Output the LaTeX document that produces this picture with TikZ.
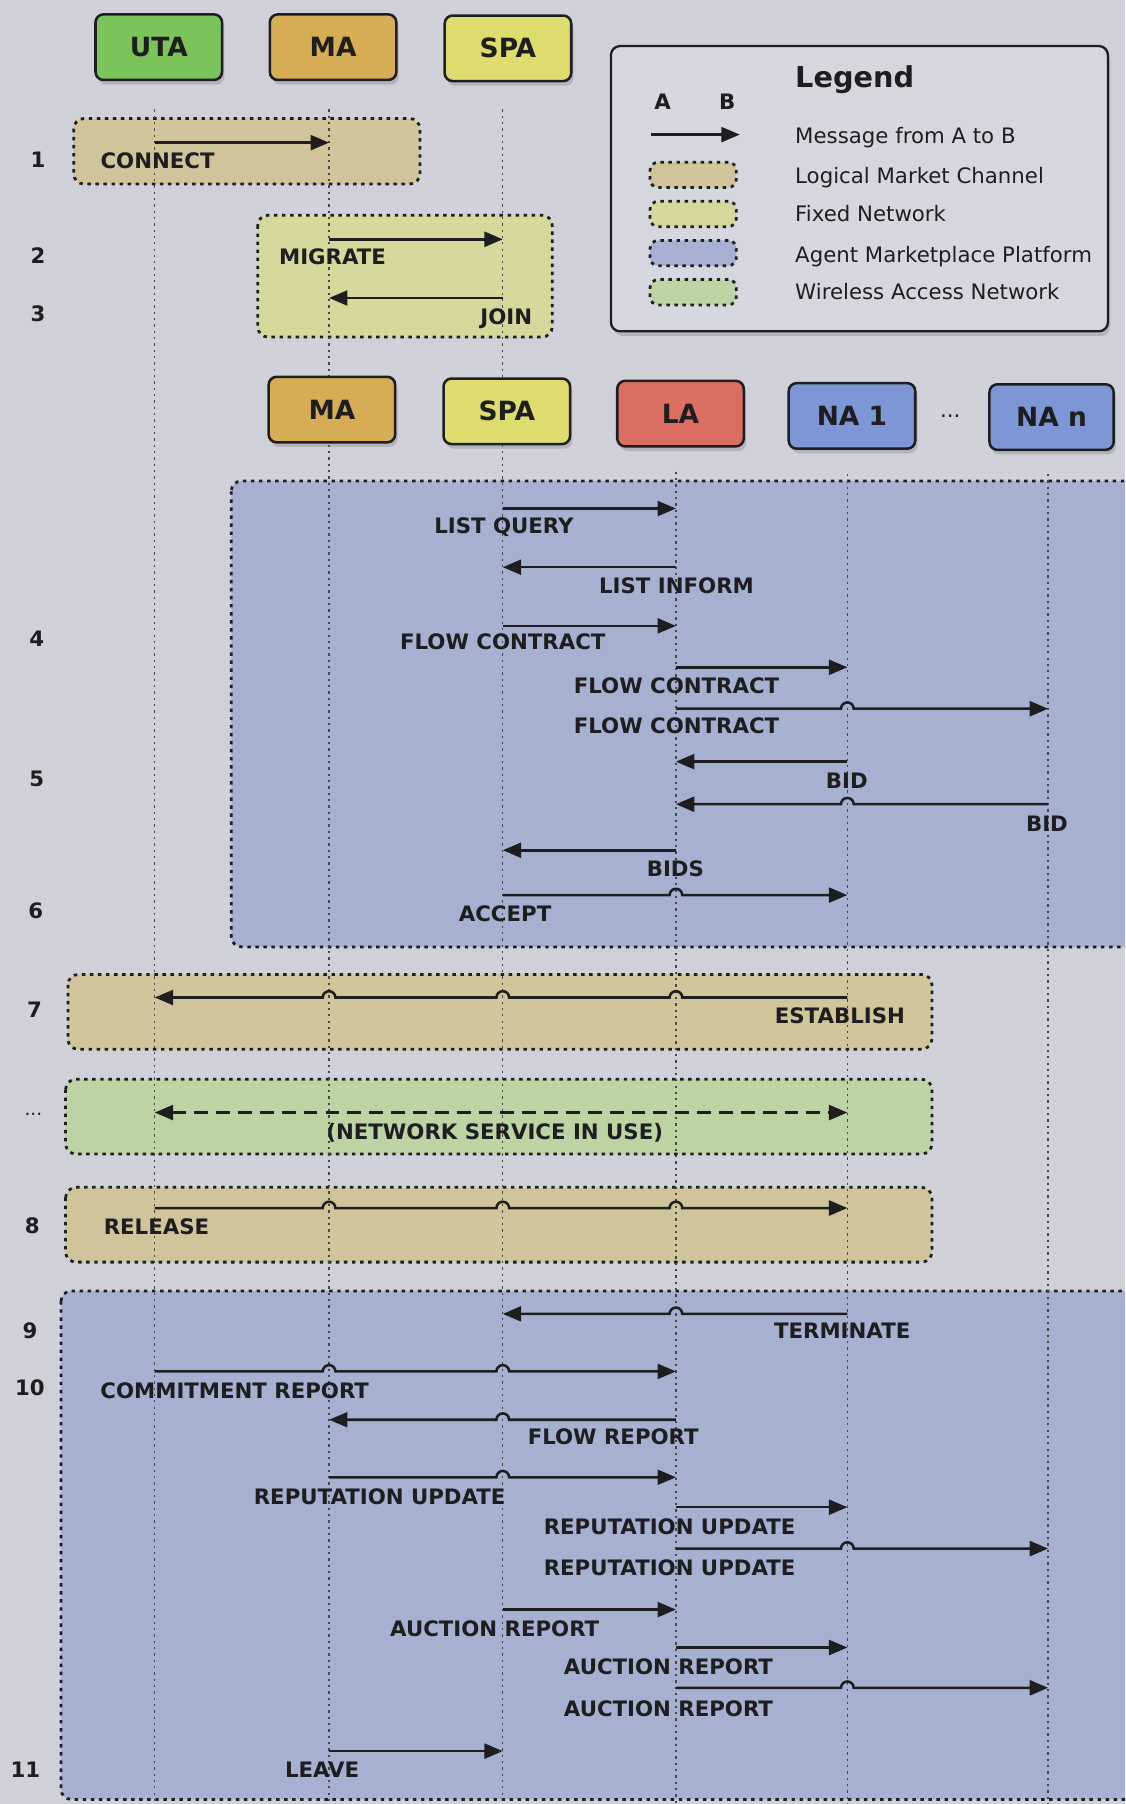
\documentclass[tikz,border=0pt]{standalone}
\usepackage{fontspec}
\setmainfont{DejaVu Sans}
\usetikzlibrary{calc,arrows.meta,shadows}
\definecolor{bgc}{RGB}{207,208,216}
\definecolor{utac}{RGB}{122,196,90}
\definecolor{mac}{RGB}{214,172,84}
\definecolor{spac}{RGB}{222,220,108}
\definecolor{lac}{RGB}{220,110,98}
\definecolor{nac}{RGB}{124,150,214}
\definecolor{lmc}{RGB}{208,196,154}
\definecolor{fixc}{RGB}{214,215,154}
\definecolor{ampc}{RGB}{166,176,208}
\definecolor{wanc}{RGB}{188,212,164}
\definecolor{legc}{RGB}{214,215,222}
\definecolor{ink}{RGB}{30,30,32}
\begin{document}
\begin{tikzpicture}[x=1pt,y=-1pt,
  agent/.style={draw=ink, line width=2.2pt, rounded corners=7pt, minimum width=110pt, minimum height=57pt,
    font=\fontsize{23}{23}\selectfont\bfseries, text=ink,
    drop shadow={shadow xshift=2pt, shadow yshift=-4pt, opacity=0.35}},
  lifeline/.style={draw=black!72, line width=1.1pt, dash pattern=on 2pt off 3.5pt},
  panel/.style={draw=ink, line width=2.4pt, dash pattern=on 3pt off 4pt, rounded corners=9pt},
  swatch/.style={panel, rounded corners=7pt, minimum width=75pt, minimum height=22pt, inner sep=0pt},
  msg/.style={draw=ink, line width=2.2pt, -{Triangle[length=16pt,width=13pt]}},
  dmsg/.style={draw=ink, line width=2.2pt, dash pattern=on 12pt off 7pt, {Triangle[length=16pt,width=13pt]}-{Triangle[length=16pt,width=13pt]}},
  lbl/.style={font=\fontsize{18.5}{18.5}\selectfont\bfseries, text=ink, inner sep=0pt, text height=13.5pt, text depth=0pt},
  legtext/.style={font=\fontsize{18.5}{18.5}\selectfont, text=ink, inner sep=0pt, anchor=west, text height=13.5pt, text depth=0pt}]
\useasboundingbox (0,0) rectangle (978,1568);
\clip (0,0) rectangle (978,1568);
\fill[bgc] (0,0) rectangle (978,1568);

% panels
\draw[panel,fill=lmc] (64,103) rectangle (365,160);
\draw[panel,fill=fixc] (224,187) rectangle (480,293);
\draw[panel,fill=ampc] (201,418) rectangle (1010,823);
\draw[panel,fill=lmc] (59,847) rectangle (810,912);
\draw[panel,fill=wanc] (57,938) rectangle (810,1003);
\draw[panel,fill=lmc] (57,1032) rectangle (810,1097);
\draw[panel,fill=ampc] (53,1122) rectangle (1010,1564);

% lifelines
\coordinate (lu) at (134.5,95);
\coordinate (lm) at (286,95);
\coordinate (ls) at (437,95);
\coordinate (ll) at (587.5,410);
\coordinate (ln1) at (736.5,412);
\coordinate (lnn) at (911,412);
\foreach \c in {lu,lm,ls,ll,ln1,lnn}{\draw[lifeline] (\c) -- (\c |- 0,1568);}

% agents
\node[agent,fill=utac] (uta) at (138,41) {UTA};
\node[agent,fill=mac] (ma1) at (289.5,41) {MA};
\node[agent,fill=spac] (spa1) at (441.5,42) {SPA};
\node[agent,fill=mac] (ma2) at (288.5,356) {MA};
\node[agent,fill=spac] (spa2) at (440.5,357.5) {SPA};
\node[agent,fill=lac] (la) at (591.5,359.5) {LA};
\node[agent,fill=nac] (na1) at (740.5,361.5) {NA 1};
\node[font=\fontsize{18.5}{18.5}\selectfont, text=ink] (dots) at (826,362) {...};
\node[agent,fill=nac,minimum width=108pt] (nan) at (914,362.5) {NA n};

% legend
\node[draw=ink, line width=2pt, rounded corners=8pt, fill=legc, minimum width=432pt, minimum height=248pt,
  drop shadow={shadow xshift=2pt, shadow yshift=-4pt, opacity=0.35}] (legend) at (747,164) {};
\node[font=\fontsize{25}{25}\selectfont\bfseries, text=ink, inner sep=0pt, anchor=west, text height=18pt, text depth=0pt] (legtitle) at (691,67) {Legend};
\node[lbl] (legAl) at (576,88) {A};
\node[lbl] (legBl) at (632,88) {B};
\coordinate (legA) at (566,117);
\coordinate (legB) at (643,117);
\draw[msg] (legA) -- (legB);
\node[swatch,fill=lmc] (sw1) at (602.5,152) {};
\node[swatch,fill=fixc] (sw2) at (602.5,186) {};
\node[swatch,fill=ampc] (sw3) at (602.5,220) {};
\node[swatch,fill=wanc] (sw4) at (602.5,254) {};
\node[legtext] (lt0) at (691,118) {Message from A to B};
\node[legtext] (lt1) at (691,153) {Logical Market Channel};
\node[legtext] (lt2) at (691,186) {Fixed Network};
\node[legtext] (lt3) at (691,221) {Agent Marketplace Platform};
\node[legtext] (lt4) at (691,254) {Wireless Access Network};

% step numbers
\node[lbl] (n1) at (33,139) {1};
\node[lbl] (n2) at (33,222) {2};
\node[lbl] (n3) at (33,273) {3};
\node[lbl] (n4) at (32,555) {4};
\node[lbl] (n5) at (32,677) {5};
\node[lbl] (n6) at (31,792) {6};
\node[lbl] (n7) at (30,878) {7};
\node[font=\fontsize{16}{16}\selectfont, text=ink, inner sep=0pt] (ndots) at (29,969) {...};
\node[lbl] (n8) at (28,1065) {8};
\node[lbl] (n9) at (26,1157) {9};
\node[lbl] (n10) at (26,1206) {10};
\node[lbl] (n11) at (22,1538) {11};

% messages
\draw[msg] (lu |- 0,124) -- (lm |- 0,124);
\node[lbl] (m1) at (137,140) {CONNECT};
\draw[msg] (lm |- 0,208) -- (ls |- 0,208);
\node[lbl] (m2) at (289,223) {MIGRATE};
\draw[msg] (ls |- 0,259) -- (lm |- 0,259);
\node[lbl] (m3) at (440,275) {JOIN};

\draw[msg] (ls |- 0,442) -- (ll |- 0,442);
\node[lbl] (m4) at (438,457) {LIST QUERY};
\draw[msg] (ll |- 0,493) -- (ls |- 0,493);
\node[lbl] (m5) at (588,509) {LIST INFORM};
\draw[msg] (ls |- 0,544) -- (ll |- 0,544);
\node[lbl] (m6) at (437,558) {FLOW CONTRACT};
\draw[msg] (ll |- 0,580) -- (ln1 |- 0,580);
\node[lbl] (m7) at (588,596) {FLOW CONTRACT};
\draw[msg] (ll |- 0,616) -- ($(ln1 |- 0,616)+(-5.5,0)$) arc[start angle=180,end angle=0,radius=5.5pt] -- (lnn |- 0,616);
\node[lbl] (m8) at (588,631) {FLOW CONTRACT};
\draw[msg] (ln1 |- 0,662) -- (ll |- 0,662);
\node[lbl] (m9) at (736,679) {BID};
\draw[msg] (lnn |- 0,699) -- ($(ln1 |- 0,699)+(5.5,0)$) arc[start angle=0,end angle=180,radius=5.5pt] -- (ll |- 0,699);
\node[lbl] (m10) at (910,716) {BID};
\draw[msg] (ll |- 0,739) -- (ls |- 0,739);
\node[lbl] (m11) at (587,755) {BIDS};
\draw[msg] (ls |- 0,778) -- ($(ll |- 0,778)+(-5.5,0)$) arc[start angle=180,end angle=0,radius=5.5pt] -- (ln1 |- 0,778);
\node[lbl] (m12) at (439,794) {ACCEPT};

\draw[msg] (ln1 |- 0,867) -- ($(ll |- 0,867)+(5.5,0)$) arc[start angle=0,end angle=180,radius=5.5pt]
  -- ($(ls |- 0,867)+(5.5,0)$) arc[start angle=0,end angle=180,radius=5.5pt]
  -- ($(lm |- 0,867)+(5.5,0)$) arc[start angle=0,end angle=180,radius=5.5pt] -- (lu |- 0,867);
\node[lbl] (m13) at (730,883) {ESTABLISH};
\draw[dmsg] (lu |- 0,967) -- (ln1 |- 0,967);
\node[lbl] (m14) at (430,984) {(NETWORK SERVICE IN USE)};
\draw[msg] (lu |- 0,1050) -- ($(lm |- 0,1050)+(-5.5,0)$) arc[start angle=180,end angle=0,radius=5.5pt]
  -- ($(ls |- 0,1050)+(-5.5,0)$) arc[start angle=180,end angle=0,radius=5.5pt]
  -- ($(ll |- 0,1050)+(-5.5,0)$) arc[start angle=180,end angle=0,radius=5.5pt] -- (ln1 |- 0,1050);
\node[lbl] (m15) at (136,1066) {RELEASE};

\draw[msg] (ln1 |- 0,1142) -- ($(ll |- 0,1142)+(5.5,0)$) arc[start angle=0,end angle=180,radius=5.5pt] -- (ls |- 0,1142);
\node[lbl] (m16) at (732,1157) {TERMINATE};
\draw[msg] (lu |- 0,1192) -- ($(lm |- 0,1192)+(-5.5,0)$) arc[start angle=180,end angle=0,radius=5.5pt]
  -- ($(ls |- 0,1192)+(-5.5,0)$) arc[start angle=180,end angle=0,radius=5.5pt] -- (ll |- 0,1192);
\node[lbl] (m17) at (204,1209) {COMMITMENT REPORT};
\draw[msg] (ll |- 0,1234) -- ($(ls |- 0,1234)+(5.5,0)$) arc[start angle=0,end angle=180,radius=5.5pt] -- (lm |- 0,1234);
\node[lbl] (m18) at (533,1249) {FLOW REPORT};
\draw[msg] (lm |- 0,1284) -- ($(ls |- 0,1284)+(-5.5,0)$) arc[start angle=180,end angle=0,radius=5.5pt] -- (ll |- 0,1284);
\node[lbl] (m19) at (330,1301) {REPUTATION UPDATE};
\draw[msg] (ll |- 0,1310) -- (ln1 |- 0,1310);
\node[lbl] (m20) at (582,1327) {REPUTATION UPDATE};
\draw[msg] (ll |- 0,1346) -- ($(ln1 |- 0,1346)+(-5.5,0)$) arc[start angle=180,end angle=0,radius=5.5pt] -- (lnn |- 0,1346);
\node[lbl] (m21) at (582,1363) {REPUTATION UPDATE};
\draw[msg] (ls |- 0,1399) -- (ll |- 0,1399);
\node[lbl] (m22) at (430,1416) {AUCTION REPORT};
\draw[msg] (ll |- 0,1432) -- (ln1 |- 0,1432);
\node[lbl] (m23) at (581,1449) {AUCTION REPORT};
\draw[msg] (ll |- 0,1467) -- ($(ln1 |- 0,1467)+(-5.5,0)$) arc[start angle=180,end angle=0,radius=5.5pt] -- (lnn |- 0,1467);
\node[lbl] (m24) at (581,1485) {AUCTION REPORT};
\draw[msg] (lm |- 0,1522) -- (ls |- 0,1522);
\node[lbl] (m25) at (280,1538) {LEAVE};
\end{tikzpicture}
\end{document}
